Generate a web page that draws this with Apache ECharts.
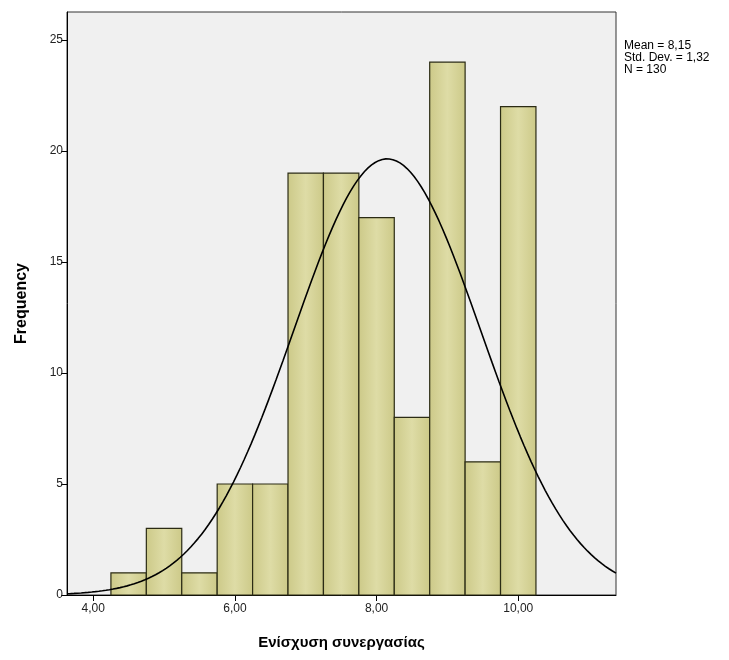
<!DOCTYPE html>
<html>
<head>
<meta charset="utf-8">
<script src="https://cdn.jsdelivr.net/npm/echarts@6/dist/echarts.min.js"></script>
<style>
  html, body { margin: 0; padding: 0; background: #ffffff; }
  #chart { width: 729px; height: 660px; }
</style>
</head>
<body>
<div id="chart"></div>
<script>
// Histogram bins (centres, width 0.5) and their counts
const binCenters = [4.5, 5.0, 5.5, 6.0, 6.5, 7.0, 7.5, 8.0, 8.5, 9.0, 9.5, 10.0];
const binWidth = 0.5;
const counts = [1, 3, 1, 5, 5, 19, 19, 17, 8, 24, 6, 22];

// Summary statistics shown beside the plot
const MEAN = 8.15;
const SD = 1.32;
const N = 130;

// Tick values and labels
const xTicks = [4, 6, 8, 10];
const xTickLabels = ['4,00', '6,00', '8,00', '10,00'];
const yTicks = [0, 5, 10, 15, 20, 25];

const X_MIN = 3.63, X_MAX = 11.38, Y_MAX = 26.26;

// Normal curve scaled to the histogram (N * bin width * density)
const curve = [];
for (let i = 0; i <= 155; i++) {
  const x = X_MIN + (X_MAX - X_MIN) * i / 155;
  const z = (x - MEAN) / SD;
  const y = N * binWidth * Math.exp(-0.5 * z * z) / (SD * Math.sqrt(2 * Math.PI));
  curve.push([x, y]);
}

const bars = binCenters.map((c, i) => [c - binWidth / 2, c + binWidth / 2, counts[i]]);

const fmt = v => v.toFixed(2).replace('.', ',');

const chart = echarts.init(document.getElementById('chart'), null, { renderer: 'canvas' });
chart.setOption({
  animation: false,
  backgroundColor: '#ffffff',
  textStyle: { fontFamily: 'Liberation Sans, Arial, sans-serif' },
  grid: {
    left: 67, top: 12, width: 549, height: 583,
    show: true, backgroundColor: '#f0f0f0', borderColor: '#333333', borderWidth: 1
  },
  xAxis: {
    type: 'value', min: X_MIN, max: X_MAX,
    name: 'Ενίσχυση συνεργασίας', nameLocation: 'middle', nameGap: 40,
    nameTextStyle: { fontSize: 15, fontWeight: 'bold', color: '#000', fontFamily: 'Liberation Sans, Arial, sans-serif' },
    axisLine: { show: true, lineStyle: { color: '#000', width: 1 } },
    axisTick: { show: true, length: 6, inside: false, customValues: xTicks, lineStyle: { color: '#000' } },
    axisLabel: {
      show: true, customValues: xTicks, margin: 8, fontSize: 12, color: '#222',
      formatter: v => xTickLabels[xTicks.indexOf(v)] ?? fmt(v)
    },
    splitLine: { show: false }
  },
  yAxis: {
    type: 'value', min: 0, max: Y_MAX,
    name: 'Frequency', nameLocation: 'middle', nameGap: 37, nameRotate: 90,
    nameTextStyle: { fontSize: 16, fontWeight: 'bold', color: '#000', fontFamily: 'Liberation Sans, Arial, sans-serif' },
    axisLine: { show: true, lineStyle: { color: '#000', width: 1 } },
    axisTick: { show: true, length: 6, inside: false, customValues: yTicks, lineStyle: { color: '#000' } },
    axisLabel: { show: true, customValues: yTicks, margin: 4, fontSize: 12, color: '#222' },
    splitLine: { show: false }
  },
  graphic: [{
    type: 'text', left: 624, top: 40,
    style: {
      text: 'Mean = ' + fmt(MEAN) + '\nStd. Dev. = ' + fmt(SD) + '\nN = ' + N,
      fontSize: 12, lineHeight: 12, fill: '#000',
      fontFamily: 'Liberation Sans, Arial, sans-serif'
    }
  }],
  series: [
    {
      type: 'custom',
      data: bars,
      encode: { x: [0, 1], y: 2 },
      renderItem: (params, api) => {
        const p0 = api.coord([api.value(0), api.value(2)]);
        const p1 = api.coord([api.value(1), 0]);
        return {
          type: 'rect',
          shape: { x: p0[0], y: p0[1], width: p1[0] - p0[0], height: p1[1] - p0[1] },
          style: {
            fill: new echarts.graphic.LinearGradient(0, 0, 1, 0, [
              { offset: 0, color: '#ccc988' },
              { offset: 0.5, color: '#dedca6' },
              { offset: 1, color: '#ccc988' }
            ]),
            stroke: '#2b2b14', lineWidth: 1.2
          }
        };
      },
      z: 2
    },
    {
      type: 'line',
      data: curve,
      showSymbol: false,
      smooth: false,
      lineStyle: { color: '#000', width: 1.6 },
      z: 3
    }
  ]
});
</script>
</body>
</html>
